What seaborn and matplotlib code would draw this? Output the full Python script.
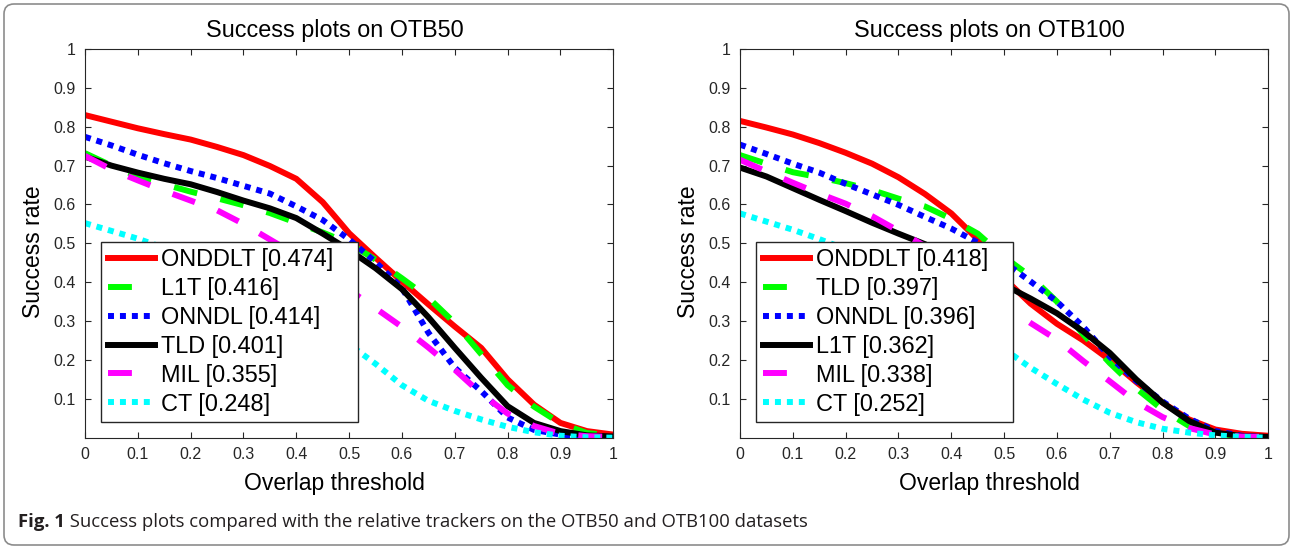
import numpy as np
import pandas as pd
import matplotlib
matplotlib.use("Agg")
import matplotlib.pyplot as plt
import seaborn as sns
from matplotlib.patches import FancyBboxPatch
from matplotlib.transforms import IdentityTransform

# overlap thresholds (x axis)
thresholds = [0.0, 0.05, 0.1, 0.15, 0.2, 0.25, 0.3, 0.35, 0.4, 0.45, 0.5,
              0.55, 0.6, 0.65, 0.7, 0.75, 0.8, 0.85, 0.9, 0.95, 1.0]

# OTB50, in legend order
otb50_names = ["ONDDLT", "L1T", "ONNDL", "TLD", "MIL", "CT"]
otb50_auc = ["0.474", "0.416", "0.414", "0.401", "0.355", "0.248"]
otb50_onddlt = [0.830, 0.813, 0.796, 0.781, 0.767, 0.748, 0.727, 0.699, 0.666, 0.606, 0.526,
                0.463, 0.402, 0.343, 0.286, 0.231, 0.150, 0.085, 0.038, 0.017, 0.008]
otb50_l1t = [0.732, 0.700, 0.672, 0.652, 0.633, 0.616, 0.598, 0.578, 0.553, 0.528, 0.500,
             0.458, 0.410, 0.360, 0.295, 0.215, 0.135, 0.080, 0.037, 0.012, 0.005]
otb50_onndl = [0.774, 0.752, 0.728, 0.706, 0.686, 0.668, 0.648, 0.628, 0.595, 0.560, 0.510,
               0.452, 0.385, 0.270, 0.180, 0.120, 0.052, 0.020, 0.008, 0.003, 0.001]
otb50_tld = [0.723, 0.700, 0.682, 0.666, 0.652, 0.632, 0.610, 0.590, 0.565, 0.525, 0.483,
             0.436, 0.382, 0.310, 0.231, 0.154, 0.081, 0.038, 0.017, 0.006, 0.003]
otb50_mil = [0.725, 0.690, 0.662, 0.635, 0.610, 0.585, 0.550, 0.510, 0.470, 0.430, 0.380,
             0.333, 0.285, 0.232, 0.175, 0.113, 0.062, 0.030, 0.010, 0.004, 0.002]
otb50_ct = [0.552, 0.532, 0.512, 0.488, 0.462, 0.436, 0.408, 0.376, 0.340, 0.292, 0.240,
            0.190, 0.135, 0.095, 0.069, 0.047, 0.028, 0.014, 0.005, 0.001, 0.000]

# OTB100, in legend order
otb100_names = ["ONDDLT", "TLD", "ONNDL", "L1T", "MIL", "CT"]
otb100_auc = ["0.418", "0.397", "0.396", "0.362", "0.338", "0.252"]
otb100_onddlt = [0.815, 0.798, 0.780, 0.758, 0.733, 0.705, 0.670, 0.627, 0.577, 0.510, 0.410,
                 0.345, 0.293, 0.250, 0.200, 0.143, 0.090, 0.047, 0.021, 0.010, 0.005]
otb100_tld = [0.727, 0.705, 0.683, 0.670, 0.655, 0.637, 0.615, 0.595, 0.563, 0.525, 0.465,
              0.415, 0.350, 0.265, 0.192, 0.127, 0.072, 0.030, 0.010, 0.004, 0.002]
otb100_onndl = [0.754, 0.730, 0.705, 0.682, 0.653, 0.626, 0.599, 0.568, 0.538, 0.502, 0.452,
                0.402, 0.350, 0.285, 0.208, 0.146, 0.093, 0.049, 0.017, 0.005, 0.001]
otb100_l1t = [0.695, 0.672, 0.642, 0.612, 0.583, 0.553, 0.525, 0.498, 0.465, 0.430, 0.393,
              0.358, 0.320, 0.273, 0.218, 0.150, 0.090, 0.043, 0.013, 0.004, 0.002]
otb100_mil = [0.715, 0.685, 0.656, 0.628, 0.602, 0.570, 0.532, 0.493, 0.452, 0.405, 0.342,
              0.295, 0.252, 0.197, 0.145, 0.092, 0.053, 0.025, 0.008, 0.003, 0.002]
otb100_ct = [0.577, 0.556, 0.535, 0.511, 0.485, 0.457, 0.425, 0.385, 0.335, 0.282, 0.228,
             0.180, 0.138, 0.098, 0.064, 0.040, 0.023, 0.013, 0.006, 0.002, 0.000]

x_ticklabels = ["0", "0.1", "0.2", "0.3", "0.4", "0.5", "0.6", "0.7", "0.8", "0.9", "1"]
y_ticklabels = ["0.1", "0.2", "0.3", "0.4", "0.5", "0.6", "0.7", "0.8", "0.9", "1"]

caption_bold = "Fig. 1"
caption_text = " Success plots compared with the relative trackers on the OTB50 and OTB100 datasets"

# colour / line style by legend rank (matlab style)
rank_colors = ["#ff0000", "#00ff00", "#0000ff", "#000000", "#ff00ff", "#00ffff"]
rank_dashes = ["", (4, 4), (1, 1), "", (4, 4), (1, 1)]

plt.rcParams['font.family'] = ['Liberation Sans', 'DejaVu Sans']
axis_color = "#262626"

W, H = 1291, 547
fig = plt.figure(figsize=(W / 100, H / 100), dpi=100)
ax_w, ax_h = 528.3 / W, 388.7 / H
ax_b = (H - 437.7) / H
ax1 = fig.add_axes([85 / W, ax_b, ax_w, ax_h])
ax2 = fig.add_axes([740 / W, ax_b, ax_w, ax_h])


def draw_panel(ax, title, names, aucs, curves):
    labels = [f"{n} [{a}]" for n, a in zip(names, aucs)]
    df = pd.DataFrame({
        "threshold": thresholds * len(curves),
        "rate": [v for c in curves for v in c],
        "tracker": np.repeat(labels, len(thresholds)),
    })
    sns.lineplot(data=df, x="threshold", y="rate", hue="tracker", style="tracker",
                 hue_order=labels, style_order=labels,
                 palette=dict(zip(labels, rank_colors)),
                 dashes=dict(zip(labels, rank_dashes)),
                 linewidth=4.3, errorbar=None, sort=False, legend=False, ax=ax)

    ax.set_xlim(0, 1)
    ax.set_ylim(0, 1)
    ax.set_xticks(np.arange(11) / 10)
    ax.set_xticklabels(x_ticklabels)
    ax.set_yticks(np.arange(1, 11) / 10)
    ax.set_yticklabels(y_ticklabels)
    ax.tick_params(direction="in", top=True, right=True, length=4, width=0.8,
                   color=axis_color, labelcolor=axis_color, labelsize=11.5, pad=7)
    for sp in ax.spines.values():
        sp.set_color(axis_color)
        sp.set_linewidth(0.8)

    ax.set_title(title, fontsize=16.8, x=0.473, pad=9, color="black")
    ax.set_xlabel("Overlap threshold", fontsize=16.5, va="center")
    ax.xaxis.set_label_coords(0.473, -0.1166)
    ax.set_ylabel("Success rate", fontsize=16.5, va="center")
    ax.yaxis.set_label_coords(-0.098, 0.478)

    # legend box stretched to the matlab width
    leg = ax.legend(handles=ax.get_lines(), labels=labels, loc="lower left",
                    bbox_to_anchor=(0.031, 0.040, 0.485, 0.46), mode="expand",
                    borderaxespad=0, fontsize=16.9, handlelength=2.0,
                    handletextpad=0.24, labelspacing=0.25, borderpad=0.28,
                    fancybox=False, framealpha=1, edgecolor=axis_color)
    leg.get_frame().set_linewidth(1.0)


draw_panel(ax1, "Success plots on OTB50", otb50_names, otb50_auc,
           [otb50_onddlt, otb50_l1t, otb50_onndl, otb50_tld, otb50_mil, otb50_ct])
draw_panel(ax2, "Success plots on OTB100", otb100_names, otb100_auc,
           [otb100_onddlt, otb100_tld, otb100_onndl, otb100_l1t, otb100_mil, otb100_ct])

# caption
renderer = fig.canvas.get_renderer()
cap_y = 20.3 / H
t1 = fig.text(18 / W, cap_y, caption_bold, fontsize=13.3, weight="bold", va="baseline",
              color="#231f20", family=["Open Sans", "DejaVu Sans"])
bb = t1.get_window_extent(renderer)
fig.text(bb.x1 / W, cap_y, caption_text, fontsize=13.3, va="baseline",
         color="#231f20", family=["Open Sans", "DejaVu Sans"])

# rounded frame around the whole figure
frame = FancyBboxPatch((4, 2), 1285, 541, boxstyle="round,pad=0,rounding_size=10",
                       transform=IdentityTransform(), facecolor="none",
                       edgecolor="#8c8c8c", linewidth=1.2)
fig.patches.append(frame)

fig.savefig("out.png", dpi=100)
